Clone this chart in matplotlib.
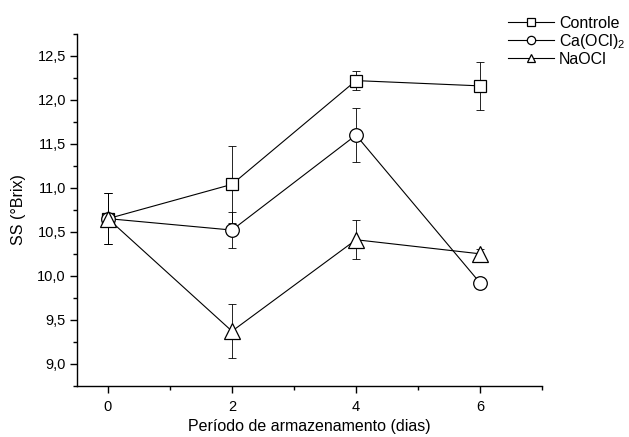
import matplotlib
matplotlib.use("Agg")
import matplotlib.pyplot as plt
from matplotlib.ticker import MultipleLocator, FuncFormatter

plt.rcParams['font.family'] = ['Liberation Sans', 'DejaVu Sans']
plt.rcParams['mathtext.fontset'] = 'custom'
plt.rcParams['mathtext.rm'] = 'Liberation Sans'
plt.rcParams['mathtext.it'] = 'Liberation Sans'
plt.rcParams['mathtext.default'] = 'regular'

days = [0, 2, 4, 6]

controle = [10.65, 11.04, 12.22, 12.16]
controle_err = [0.29, 0.44, 0.11, 0.27]

ca_ocl2 = [10.65, 10.52, 11.60, 9.92]
ca_ocl2_err = [0.29, 0.20, 0.31, 0.03]

naocl = [10.65, 9.37, 10.41, 10.25]
naocl_err = [0.29, 0.31, 0.22, 0.05]

series = [
    ("Controle", controle, controle_err, "s", 9.2),
    ("Ca(OCl)$_2$", ca_ocl2, ca_ocl2_err, "o", 9.8),
    ("NaOCl", naocl, naocl_err, "^", 12.0),
]

fig = plt.figure(figsize=(6.29, 4.37), dpi=100)
ax = fig.add_axes([0.1224, 0.1174, 0.7393, 0.8048])

handles = []
for label, vals, err, mk, ms in series:
    ax.errorbar(days, vals, yerr=err, fmt="none", ecolor="black",
                elinewidth=0.6, capsize=2.6, capthick=0.6, zorder=2)
    ln, = ax.plot(days, vals, color="black", lw=0.8, marker=mk, ms=ms,
                  mfc="white", mec="black", mew=0.9, label=label, zorder=3)
    handles.append(ln)

ax.set_xlim(-0.5, 7)
ax.set_ylim(8.75, 12.75)
ax.xaxis.set_major_locator(MultipleLocator(2))
ax.xaxis.set_minor_locator(MultipleLocator(1))
ax.yaxis.set_major_locator(MultipleLocator(0.5))
ax.yaxis.set_minor_locator(MultipleLocator(0.25))
ax.yaxis.set_major_formatter(FuncFormatter(lambda v, p: f"{v:.1f}".replace(".", ",")))
ax.xaxis.set_major_formatter(FuncFormatter(lambda v, p: f"{v:.0f}"))

for side in ("top", "right"):
    ax.spines[side].set_visible(False)
for side in ("left", "bottom"):
    ax.spines[side].set_linewidth(1.0)

ax.tick_params(which="major", direction="out", length=5, width=1.0, labelsize=10.5)
ax.tick_params(which="minor", direction="out", length=3, width=1.0)
ax.tick_params(axis="x", pad=5)
ax.tick_params(axis="y", pad=3)

ax.set_xlabel("Período de armazenamento (dias)", fontsize=11.5, labelpad=4)
ax.set_ylabel("SS (°Brix)", fontsize=11.5, labelpad=8)

leg = fig.legend(handles=handles, loc="upper left",
                 bbox_to_anchor=(508 / 629, 1 - 16 / 437),
                 frameon=False, fontsize=11.5, handlelength=2.9,
                 handletextpad=0.3, labelspacing=0.05, borderaxespad=0,
                 borderpad=0)
for h in leg.legend_handles:
    h.set_markersize(6.0)

fig.savefig("out.png", dpi=100)
